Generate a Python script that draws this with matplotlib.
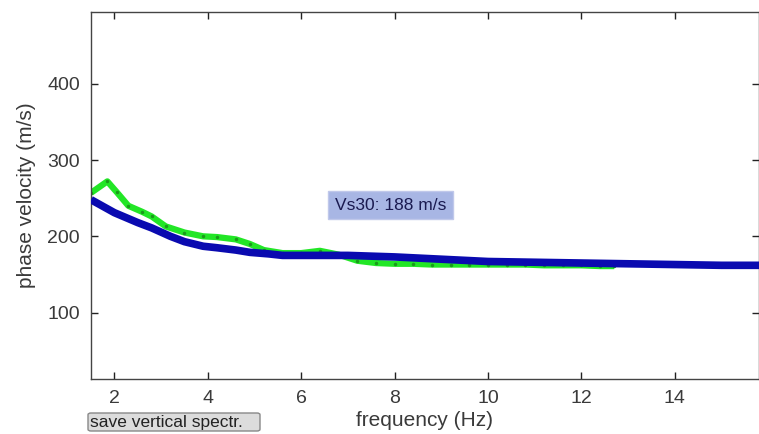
import matplotlib
matplotlib.use("Agg")
import matplotlib.pyplot as plt
from matplotlib.patches import FancyBboxPatch

# ---- data ----
blue_f = [1.5, 2.0, 2.5, 2.8, 3.2, 3.5, 3.9, 4.2, 4.6, 4.9, 5.3, 5.6, 6.0, 7.0,
          8.0, 9.0, 10.0, 11.0, 12.0, 13.0, 14.0, 15.0, 15.8]
blue_v = [248, 231, 218, 211, 200, 193, 187, 185, 182, 179, 177, 175, 175, 175,
          173, 170, 167, 166, 165, 164, 163, 162, 162]

green_f = [1.5, 1.85, 2.05, 2.3, 2.6, 2.8, 3.1, 3.5, 3.9, 4.2, 4.6, 4.9, 5.2,
           5.6, 6.0, 6.4, 6.8, 7.2, 7.6, 8.0, 8.4, 8.8, 9.2, 9.6, 10.0, 10.4,
           10.8, 11.2, 11.6, 12.0, 12.4, 12.7]
green_v = [257, 272, 258, 240, 232, 226, 213, 205, 200, 199, 196, 190, 182,
           178, 178, 181, 176, 168, 165, 164, 164, 163, 163, 163, 163, 163,
           163, 162, 162, 162, 161, 161]

x_ticks = [2, 4, 6, 8, 10, 12, 14]
y_ticks = [100, 200, 300, 400]
vs30_label = "Vs30: 188 m/s"
x_label = "frequency (Hz)"
y_label = "phase velocity (m/s)"
button_label = "save vertical spectr."

plt.rcParams['font.family'] = ['Liberation Sans', 'DejaVu Sans']

fig = plt.figure(figsize=(7.59, 4.34), dpi=100)
ax = fig.add_axes([91/759, 1-379/434, 668/759, (379-12)/434])

ax.plot(green_f, green_v, color='#22e626', lw=4.5, solid_capstyle='butt', zorder=2,
        marker='.', markersize=3, markerfacecolor='#1a9a1a', markeredgecolor='#1a9a1a')
ax.plot(blue_f, blue_v, color='#0a0ab0', lw=5.5, solid_capstyle='butt', zorder=3)

ax.set_xlim(1.5, 15.8)
ax.set_ylim(13, 494)
ax.set_xticks(x_ticks)
ax.set_yticks(y_ticks)
ax.tick_params(direction='in', length=5, width=1, top=True, right=True,
               labelsize=14, labelcolor='#3a3a3a', color='#222222', pad=8)
for s in ax.spines.values():
    s.set_color('#444444')
    s.set_linewidth(1.0)

ax.set_xlabel(x_label, fontsize=15, color='#3a3a3a', labelpad=3)
ax.set_ylabel(y_label, fontsize=15, color='#3a3a3a', labelpad=8)

ax.text(7.91, 241, vs30_label, fontsize=12.5, color='#1a1a50', ha='center', va='center',
        bbox=dict(boxstyle='square,pad=0.38', facecolor='#a8b6e4', edgecolor='#c0c8ea'),
        zorder=5)

# button
btn = FancyBboxPatch((88/759, 1-431/434), 172/759, 18/434,
                     boxstyle='round,pad=0,rounding_size=0.004',
                     transform=fig.transFigure, facecolor='#dcdcdc',
                     edgecolor='#888888', lw=1)
fig.patches.append(btn)
fig.text(90/759, 1-422/434, button_label, fontsize=12.5, color='#222222',
         ha='left', va='center')

fig.savefig('out.png', dpi=100)
